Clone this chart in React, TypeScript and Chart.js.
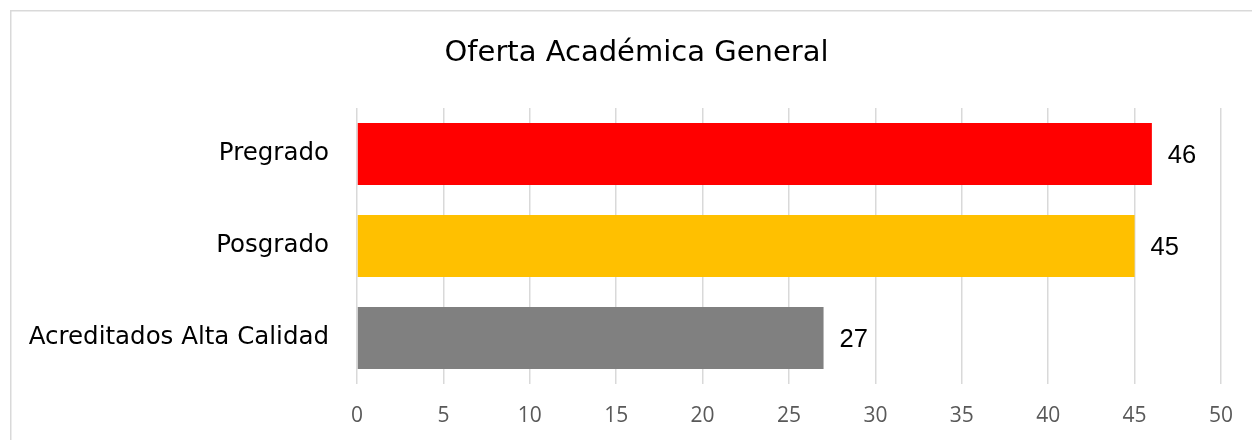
import React, { useEffect, useRef } from "react";
import { Chart, registerables } from "chart.js";

Chart.register(...registerables);

const title = "Oferta Académica General";
const categories = ["Pregrado", "Posgrado", "Acreditados Alta Calidad"];
const values = [46, 45, 27];
const barColors = ["#FF0000", "#FFC000", "#808080"];
const xMin = 0;
const xMax = 50;
const xStep = 5;

const framePlugin = {
  id: "frame",
  beforeDraw(chart: any) {
    const ctx = chart.ctx;
    ctx.save();
    ctx.fillStyle = "#ffffff";
    ctx.fillRect(0, 0, chart.width, chart.height);
    ctx.strokeStyle = "#d9d9d9";
    ctx.lineWidth = 1.5;
    ctx.strokeRect(10.75, 10.75, chart.width + 50, chart.height + 50);
    ctx.restore();
  },
};

const titlePlugin = {
  id: "customTitle",
  afterDraw(chart: any) {
    const ctx = chart.ctx;
    ctx.save();
    ctx.fillStyle = "#000000";
    ctx.font = "29px 'DejaVu Sans'";
    ctx.textAlign = "center";
    ctx.textBaseline = "middle";
    ctx.fillText(title, 636.5, 53);
    ctx.restore();
  },
};

const dataLabelPlugin = {
  id: "dataLabels",
  afterDatasetsDraw(chart: any) {
    const ctx = chart.ctx;
    const meta = chart.getDatasetMeta(0);
    ctx.save();
    ctx.fillStyle = "#000000";
    ctx.font = "25.5px 'Liberation Sans'";
    ctx.textAlign = "left";
    ctx.textBaseline = "middle";
    meta.data.forEach((bar: any, i: number) => {
      ctx.fillText(String(values[i]), bar.x + 16, bar.y + 2);
    });
    ctx.restore();
  },
};

export default function App() {
  const canvasRef = useRef<HTMLCanvasElement | null>(null);

  useEffect(() => {
    const canvas = canvasRef.current;
    if (!canvas) return;
    const chart = new Chart(canvas, {
      type: "bar",
      data: {
        labels: categories,
        datasets: [
          {
            data: values,
            backgroundColor: barColors,
            borderWidth: 0,
            categoryPercentage: 1,
            barPercentage: 0.674,
          },
        ],
      },
      options: {
        indexAxis: "y",
        responsive: false,
        animation: false,
        layout: { padding: { top: 108, right: 31, bottom: 0, left: 0 } },
        plugins: {
          legend: { display: false },
          title: { display: false },
          tooltip: { enabled: false },
        },
        scales: {
          x: {
            min: xMin,
            max: xMax,
            ticks: {
              stepSize: xStep,
              color: "#595959",
              font: { family: "'Open Sans'", size: 21 },
              padding: 19,
            },
            grid: {
              color: "#d9d9d9",
              lineWidth: 1.5,
              drawTicks: false,
            },
            border: { display: false },
            afterFit(scale: any) {
              scale.height = 56;
            },
          },
          y: {
            ticks: {
              color: "#000000",
              font: { family: "'DejaVu Sans'", size: 24.5 },
              padding: 28,
            },
            grid: { display: false, drawTicks: false },
            border: { display: false },
            afterFit(scale: any) {
              scale.width = 357;
            },
          },
        },
      },
      plugins: [framePlugin, titlePlugin, dataLabelPlugin],
    });
    return () => chart.destroy();
  }, []);

  return (
    <div style={{ position: "fixed", left: 0, top: 0, width: 1252, height: 440 }}>
      <canvas ref={canvasRef} width={1252} height={440} style={{ display: "block" }} />
    </div>
  );
}
